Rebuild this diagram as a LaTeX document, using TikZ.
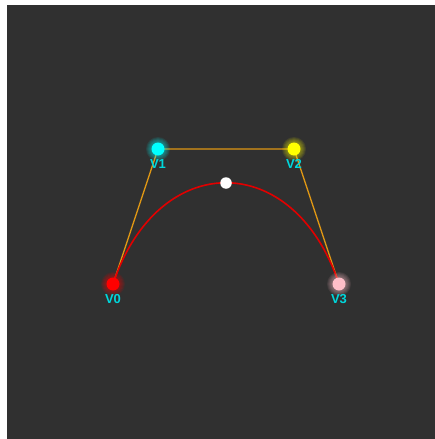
\documentclass[tikz,border=0pt]{standalone}
\usepackage{fontspec}
\setmainfont{Liberation Sans}
\usepackage{xcolor}
\usetikzlibrary{positioning}
\definecolor{bzBack}{RGB}{48,48,48}
\definecolor{bzHull}{RGB}{222,150,20}
\definecolor{bzCurve}{RGB}{225,0,0}
\definecolor{bzLabel}{RGB}{0,215,220}
\definecolor{bzRed}{RGB}{255,0,0}
\definecolor{bzCyan}{RGB}{0,255,255}
\definecolor{bzYellow}{RGB}{255,255,0}
\definecolor{bzPink}{RGB}{255,190,200}

\begin{document}
\begin{tikzpicture}[
    x=1pt, y=-1pt,
    hull/.style={draw=bzHull, line width=1.3pt},
    curve/.style={draw=bzCurve, line width=1.6pt},
    vdot/.style={circle, fill=#1, minimum size=13pt, inner sep=0pt},
    vlabel/.style={text=bzLabel, font=\bfseries\fontsize{13}{13}\selectfont, inner sep=0pt}
  ]
    \fill[white] (0,0) rectangle (435,439);
    \fill[bzBack] (7,5) rectangle (435,439);
    \useasboundingbox (0,0) rectangle (435,439);
    % control points
    \coordinate (p0) at (113,284);
    \coordinate (p1) at (158,149);
    \coordinate (p2) at (294,149);
    \coordinate (p3) at (339,284);
    \draw[hull] (p0) -- (p1) -- (p2) -- (p3);
    \draw[curve] (p0) .. controls (p1) and (p2) .. (p3);
    % soft glow round the points
    \foreach \p/\c in {p0/bzRed, p1/bzCyan, p2/bzYellow, p3/bzPink}
      \foreach \r in {7,8,...,12}
        \fill[\c, opacity=0.09] (\p) circle (\r);
    \node[vdot=bzRed] (v0) at (p0) {};
    \node[vdot=bzCyan] (v1) at (p1) {};
    \node[vdot=bzYellow] (v2) at (p2) {};
    \node[vdot=bzPink] (v3) at (p3) {};
    \node[circle, fill=white, minimum size=11.5pt, inner sep=0pt] (mid) at (226,183) {};
    \node[vlabel, below=4pt of v0] (l0) {V0};
    \node[vlabel, below=4pt of v1] (l1) {V1};
    \node[vlabel, below=4pt of v2] (l2) {V2};
    \node[vlabel, below=4pt of v3] (l3) {V3};
  \end{tikzpicture}
\end{document}
